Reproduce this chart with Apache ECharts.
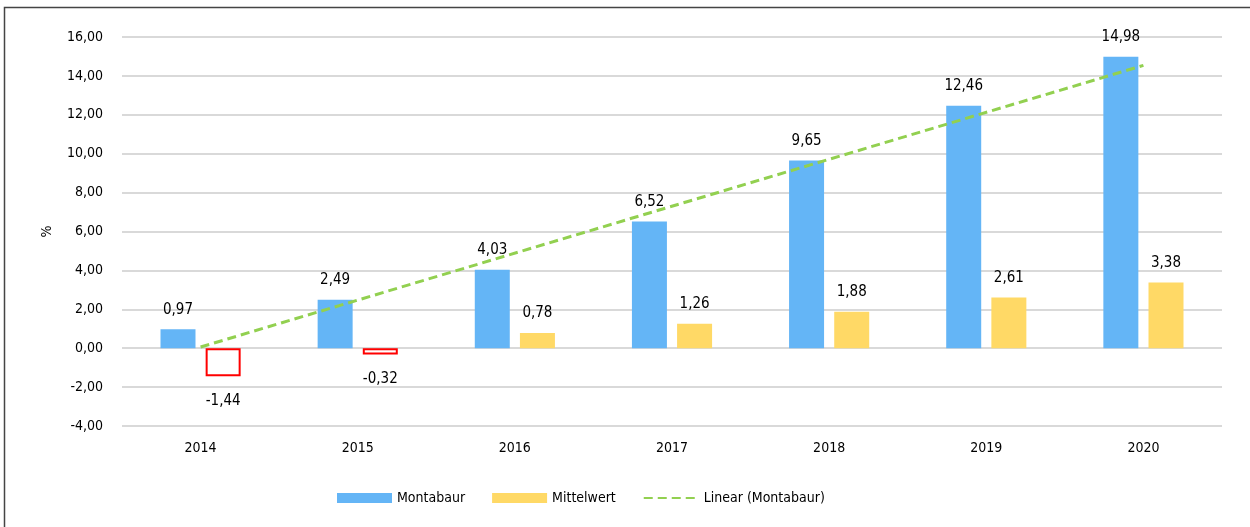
<!DOCTYPE html>
<html>
<head>
<meta charset="utf-8">
<script src="https://cdn.jsdelivr.net/npm/echarts@6/dist/echarts.min.js"></script>
<style>
	html, body { margin: 0; padding: 0; background: #fff; }
	#chart { width: 1250px; height: 527px; }
</style>
</head>
<body>
<div id="chart"></div>
<script>
var years = ['2014', '2015', '2016', '2017', '2018', '2019', '2020'];
var montabaur = [0.97, 2.49, 4.03, 6.52, 9.65, 12.46, 14.98];
var mittelwert = [-1.44, -0.32, 0.78, 1.26, 1.88, 2.61, 3.38];
// trendline ends
var trend = [0.06, null, null, null, null, null, 14.54];

var FONT = '"DejaVu Sans Condensed", "Liberation Sans Narrow", sans-serif';

function fmt(v) {
	return v.toFixed(2).replace('.', ',');
}

// negative values: white bar with red outline, label below
var mittelData = mittelwert.map(function (v) {
	if (v < 0) {
		return {
			value: v,
			itemStyle: { color: '#ffffff', borderColor: '#FF0000', borderWidth: 2 },
			label: { position: 'bottom', distance: 17 }
		};
	}
	return v;
});

var labelStyle = {
	show: true,
	position: 'top',
	distance: 12,
	fontFamily: FONT,
	fontSize: 15,
	color: '#000',
	formatter: function (p) { return fmt(p.value); }
};

var option = {
	animation: false,
	textStyle: { fontFamily: FONT },
	graphic: [{
		type: 'rect',
		shape: { x: 4.5, y: 7.5, width: 1400, height: 700 },
		style: { fill: 'none', stroke: '#444', lineWidth: 1.5 },
		silent: true
	}],
	grid: {
		left: 122,
		right: 28,
		top: 37,
		bottom: 101,
		containLabel: false
	},
	legend: {
		left: 332,
		top: 486,
		itemWidth: 55,
		itemHeight: 10,
		itemGap: 27,
		textStyle: { fontFamily: FONT, fontSize: 14, color: '#000' },
		data: [
			{ name: 'Montabaur', icon: 'rect' },
			{ name: 'Mittelwert', icon: 'rect' },
			{ name: 'Linear (Montabaur)', itemStyle: { opacity: 0 } }
		]
	},
	xAxis: {
		type: 'category',
		data: years,
		axisLine: { show: false, onZero: false },
		axisTick: { show: false },
		axisLabel: { fontFamily: FONT, fontSize: 14, color: '#000', margin: 15 }
	},
	yAxis: {
		type: 'value',
		min: -4,
		max: 16,
		interval: 2,
		name: '%',
		nameLocation: 'middle',
		nameRotate: 90,
		nameGap: 68,
		nameTextStyle: { fontFamily: FONT, fontSize: 14, color: '#000' },
		axisLine: { show: false },
		axisTick: { show: false },
		axisLabel: {
			fontFamily: FONT,
			fontSize: 14,
			color: '#000',
			margin: 19,
			formatter: function (v) { return fmt(v); }
		},
		splitLine: { lineStyle: { color: '#D9D9D9', width: 2 } }
	},
	series: [{
		name: 'Montabaur',
		type: 'bar',
		barWidth: 35,
		barGap: '29%',
		itemStyle: { color: '#64B5F6' },
		label: labelStyle,
		data: montabaur,
		z: 2
	}, {
		name: 'Mittelwert',
		type: 'bar',
		barWidth: 35,
		itemStyle: { color: '#FFD966' },
		label: labelStyle,
		data: mittelData,
		z: 2
	}, {
		name: 'Linear (Montabaur)',
		type: 'line',
		symbol: 'none',
		connectNulls: true,
		lineStyle: { color: '#92D050', width: 3, type: [9, 5] },
		itemStyle: { color: '#92D050' },
		data: trend,
		z: 5
	}]
};

echarts.init(document.getElementById('chart')).setOption(option);
</script>
</body>
</html>
